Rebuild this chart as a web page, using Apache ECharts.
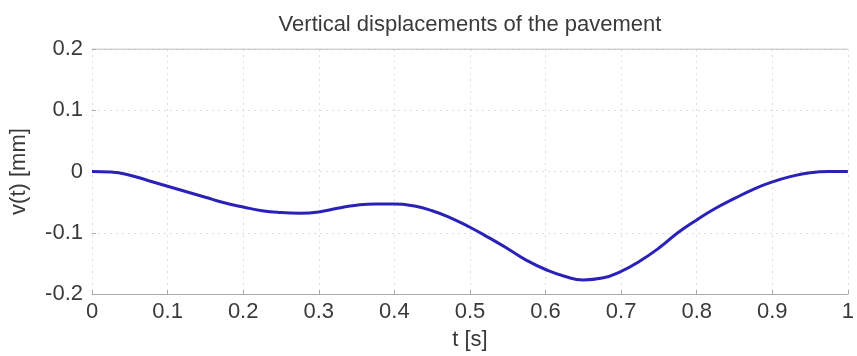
<!DOCTYPE html>
<html>
<head>
<meta charset="utf-8">
<script src="https://cdn.jsdelivr.net/npm/echarts@6/dist/echarts.min.js"></script>
<style>
  html, body { margin: 0; padding: 0; background: #fff; }
  #chart { width: 857px; height: 356px; }
</style>
</head>
<body>
<div id="chart"></div>
<script>
// time [s]
var tData = [0, 0.025, 0.05, 0.075, 0.1, 0.125, 0.15, 0.175, 0.2, 0.225, 0.25, 0.275, 0.3, 0.325, 0.35, 0.375, 0.4, 0.425, 0.45, 0.475,
             0.5, 0.525, 0.55, 0.575, 0.6, 0.625, 0.65, 0.675, 0.7, 0.725, 0.75, 0.775, 0.8, 0.825, 0.85, 0.875, 0.9, 0.925, 0.95, 0.975, 1];
// vertical displacement [mm]
var vData = [0, -0.001, -0.006, -0.015, -0.024, -0.033, -0.042, -0.051, -0.058, -0.064, -0.067, -0.068, -0.066, -0.060, -0.055, -0.053, -0.053, -0.056, -0.064, -0.076,
             -0.091, -0.108, -0.126, -0.145, -0.160, -0.171, -0.177, -0.174, -0.163, -0.146, -0.125, -0.100, -0.079, -0.060, -0.044, -0.029, -0.017, -0.008, -0.002, 0, 0];

var titleText = 'Vertical displacements of the pavement';
var xName = 't [s]';
var yName = 'v(t) [mm]';

var points = tData.map(function (t, i) { return [t, vData[i]]; });

var myChart = echarts.init(document.getElementById('chart'));
var font = 'Liberation Sans, Arial, sans-serif';

var option = {
    animation: false,
    title: {
        text: titleText,
        left: 465,
        textAlign: 'center',
        top: 9,
        textStyle: { fontFamily: font, fontSize: 22, fontWeight: 'normal', color: '#3a3a3a' }
    },
    grid: { left: 92, right: 5, top: 49, bottom: 59 },
    xAxis: {
        type: 'value',
        min: 0, max: 1, interval: 0.1,
        name: xName,
        nameLocation: 'middle',
        nameGap: 35,
        nameTextStyle: { fontFamily: font, fontSize: 22, color: '#3a3a3a' },
        axisLine: { show: true, onZero: false, lineStyle: { color: '#aaa', width: 1 } },
        axisTick: { show: true, inside: true, length: 4, lineStyle: { color: '#aaa' } },
        axisLabel: { fontFamily: font, fontSize: 22, color: '#3a3a3a', margin: 7,
            formatter: function (v) { return +v.toFixed(1) + ''; } },
        splitLine: { show: true, lineStyle: { color: '#ddd', type: [2, 4] } }
    },
    yAxis: {
        type: 'value',
        min: -0.2, max: 0.2, interval: 0.1,
        name: yName,
        nameLocation: 'middle',
        nameGap: 62,
        nameTextStyle: { fontFamily: font, fontSize: 22, color: '#3a3a3a' },
        axisLine: { show: false },
        axisTick: { show: true, inside: true, length: 4, lineStyle: { color: '#aaa' } },
        axisLabel: { fontFamily: font, fontSize: 22, color: '#3a3a3a', margin: 9,
            formatter: function (v) { return +v.toFixed(1) + ''; } },
        splitLine: { show: true, lineStyle: { color: '#ddd', type: [2, 4] } }
    },
    series: [{
        type: 'line',
        data: points,
        showSymbol: false,
        smooth: true,
        lineStyle: { color: '#2a22b8', width: 3 }
    }, {
        // top border line of the plot box
        type: 'line',
        data: [[0, 0.2], [1, 0.2]],
        showSymbol: false,
        silent: true,
        lineStyle: { color: '#aaa', width: 1 }
    }]
};

myChart.setOption(option);
</script>
</body>
</html>
